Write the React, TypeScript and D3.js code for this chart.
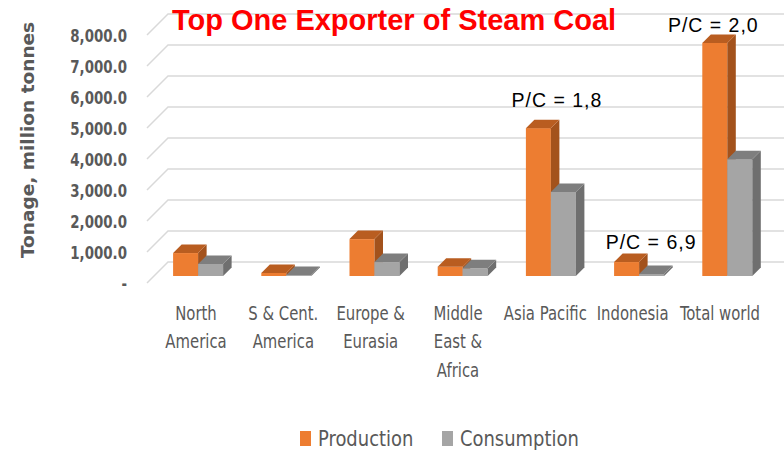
import React from "react";
import * as d3 from "d3";

const categories = [
  ["North", "America"],
  ["S & Cent.", "America"],
  ["Europe &", "Eurasia"],
  ["Middle", "East &", "Africa"],
  ["Asia Pacific"],
  ["Indonesia"],
  ["Total world"],
];
const production = [740, 100, 1190, 300, 4770, 450, 7520];
const consumption = [390, 30, 450, 250, 2710, 65, 3770];
const yTicks = [0, 1000, 2000, 3000, 4000, 5000, 6000, 7000, 8000];
const annotations = [
  { cat: 4, text: "P/C = 1,8", dx: 6, dy: -21 },
  { cat: 5, text: "P/C = 6,9", dx: 12, dy: -13 },
  { cat: 6, text: "P/C = 2,0", dx: -14, dy: -11 },
];
const seriesNames = ["Production", "Consumption"];

const W = 784, H = 452;
const FRONT_X = 147, FRONT_Y0 = 283, DEPTH = 21;
const BAR_D0 = 7, BAR_D1 = 15.5;
const NARROW = "'Liberation Sans Narrow', 'DejaVu Sans Condensed', 'Roboto Condensed', sans-serif";
const ARIAL = "'Liberation Sans', Arial, sans-serif";

const colors = [
  { front: "#ED7D31", top: "#B95D20", side: "#A3521C" },
  { front: "#A5A5A5", top: "#7E7E7E", side: "#6F6F6F" },
];

export default function App() {
  const idx = categories.map((_, i) => String(i));
  const x = d3.scaleBand().domain(idx).range([FRONT_X, FRONT_X + 7 * 88.2]).paddingInner(0.433).paddingOuter(0.2165);
  const xs = d3.scaleBand().domain(["0", "1"]).range([0, x.bandwidth()]);
  const xl = d3.scalePoint().domain(idx).range([196, 720]);
  const y = d3.scaleLinear().domain([0, 8000]).range([FRONT_Y0, 35]);
  const series = [production, consumption];
  const rightEnd = 784;

  const bars: React.ReactNode[] = [];
  categories.forEach((_, i) => {
    series.forEach((vals, s) => {
      const v = vals[i];
      const x0 = (x(String(i)) as number) + (xs(String(s)) as number) + BAR_D0;
      const w = xs.bandwidth();
      const yb = y(0) - BAR_D0;
      const yt = y(v) - BAR_D0;
      const dd = BAR_D1 - BAR_D0;
      const c = colors[s];
      bars.push(
        <g key={`b${i}-${s}`}>
          <rect x={x0} y={yt} width={w} height={yb - yt} fill={c.front} />
          <polygon points={`${x0 + w},${yt} ${x0 + w + dd},${yt - dd} ${x0 + w + dd},${yb - dd} ${x0 + w},${yb}`} fill={c.side} />
          <polygon points={`${x0},${yt} ${x0 + dd},${yt - dd} ${x0 + w + dd},${yt - dd} ${x0 + w},${yt}`} fill={c.top} />
        </g>
      );
    });
  });

  return (
    <svg width={W} height={H} style={{ display: "block", position: "absolute", left: 0, top: 0, background: "#fff" }}>
      {yTicks.map((t) => (
        <g key={t}>
          <polyline
            points={`${FRONT_X},${y(t)} ${FRONT_X + DEPTH},${y(t) - DEPTH} ${rightEnd},${y(t) - DEPTH}`}
            fill="none" stroke="#D9D9D9" strokeWidth={1.5} />
          <g transform={`translate(127,${y(t) + 6.5}) scale(0.85,1)`}>
            <text x={0} y={0} textAnchor="end" fontFamily={NARROW} fontWeight="bold" fontSize={17.5} fill="#595959">
              {t === 0 ? "-" : d3.format(",.1f")(t)}
            </text>
          </g>
        </g>
      ))}
      {bars}
      {categories.map((lines, i) => {
        const cx = xl(String(i)) as number;
        return (
          <g key={`c${i}`} transform={`translate(${cx},0) scale(0.87,1)`}>
            <text textAnchor="middle" fontFamily={NARROW} fontSize={19} fill="#595959">
              {lines.map((l, j) => (
                <tspan key={j} x={0} y={320 + j * 28.5}>{l}</tspan>
              ))}
            </text>
          </g>
        );
      })}
      {annotations.map((a) => {
        const cx = (x(String(a.cat)) as number) + x.bandwidth() / 2 + BAR_D0 + a.dx;
        const v = production[a.cat];
        return (
          <text key={a.text} x={cx} y={y(v) - BAR_D0 + a.dy} textAnchor="middle" fontFamily={ARIAL} fontSize={19.5} letterSpacing={1} fill="#000">
            {a.text}
          </text>
        );
      })}
      <text x={394} y={30} textAnchor="middle" fontFamily={ARIAL} fontWeight="bold" fontSize={29} fill="#FF0000">
        Top One Exporter of Steam Coal
      </text>
      <text transform="translate(34,140) rotate(-90)" textAnchor="middle" fontFamily="'DejaVu Sans', sans-serif" fontWeight="bold" fontSize={18.5} fill="#595959">
        Tonage, million tonnes
      </text>
      {seriesNames.map((n, s) => {
        const lx = s === 0 ? 300 : 442;
        return (
          <g key={n}>
            <rect x={lx} y={431} width={11} height={15} fill={colors[s].front} />
            <g transform={`translate(${lx + 18},446) scale(0.95,1)`}>
              <text x={0} y={0} fontFamily={NARROW} fontSize={21} fill="#595959">{n}</text>
            </g>
          </g>
        );
      })}
    </svg>
  );
}
